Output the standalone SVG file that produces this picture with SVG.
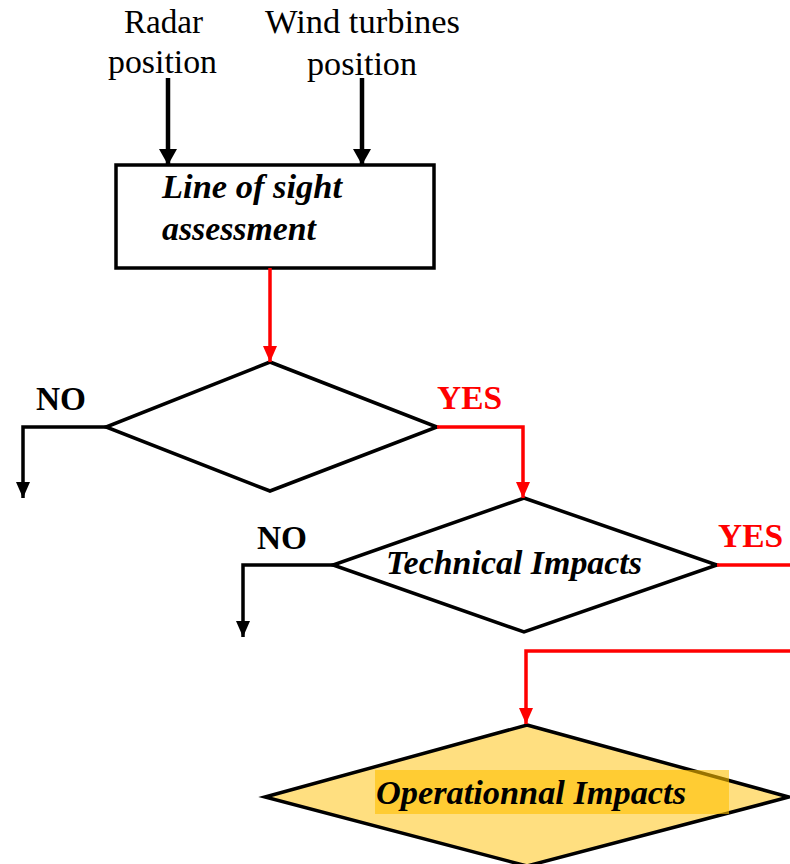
<svg xmlns="http://www.w3.org/2000/svg" width="790" height="864" viewBox="0 0 790 864">
  <defs>
    <style>
      .lbl { font-family: "Liberation Serif", "Times New Roman", serif; font-size: 33px; fill: #000; }
      .bi { font-family: "Liberation Serif", "Times New Roman", serif; font-size: 33px; font-weight: bold; font-style: italic; fill: #000; }
      .b { font-family: "Liberation Serif", "Times New Roman", serif; font-size: 33px; font-weight: bold; }
      .shape { fill: #fff; stroke: #000; stroke-width: 3.5; stroke-linejoin: miter; }
      .blk { fill: none; stroke: #000; stroke-width: 3.5; }
      .red { fill: none; stroke: #ff0000; stroke-width: 3.5; }
      .thick { fill: none; stroke: #000; stroke-width: 4.5; }
    </style>
    <marker id="ab" viewBox="0 0 16 14" refX="16" refY="7" markerWidth="16" markerHeight="14" markerUnits="userSpaceOnUse" orient="auto">
      <path d="M0,0 L16,7 L0,14 z" fill="#000"/>
    </marker>
    <marker id="abl" viewBox="0 0 16 18" refX="16" refY="9" markerWidth="16" markerHeight="18" markerUnits="userSpaceOnUse" orient="auto">
      <path d="M0,0 L16,9 L0,18 z" fill="#000"/>
    </marker>
    <marker id="ar" viewBox="0 0 16 14" refX="16" refY="7" markerWidth="16" markerHeight="14" markerUnits="userSpaceOnUse" orient="auto">
      <path d="M0,0 L16,7 L0,14 z" fill="#ff0000"/>
    </marker>
  </defs>

  <g id="input-radar">
    <text class="lbl" x="124" y="33" textLength="79" lengthAdjust="spacingAndGlyphs">Radar</text>
    <text class="lbl" x="108" y="73" textLength="109" lengthAdjust="spacingAndGlyphs">position</text>
  </g>
  <g id="input-turbines">
    <text class="lbl" x="265" y="33" textLength="195" lengthAdjust="spacingAndGlyphs">Wind turbines</text>
    <text class="lbl" x="307" y="75" textLength="110" lengthAdjust="spacingAndGlyphs">position</text>
  </g>

  <g id="los">
    <rect class="shape" x="116" y="165" width="318" height="103"/>
    <text class="bi" x="162" y="198" textLength="180" lengthAdjust="spacingAndGlyphs">Line of sight</text>
    <text class="bi" x="162" y="240" textLength="154" lengthAdjust="spacingAndGlyphs">assessment</text>
  </g>

  <g id="decision1">
    <polygon class="shape" points="270,362 437,427 270,491 106,427"/>
  </g>

  <g id="technical">
    <polygon class="shape" points="524,498 717,565 524,632 333,565"/>
    <text class="bi" x="386" y="574" textLength="256" lengthAdjust="spacingAndGlyphs">Technical Impacts</text>
  </g>

  <g id="operational">
    <polygon points="527,725 789,797 527,866 265,797" fill="#ffdf80" stroke="#000" stroke-width="3.5"/>
    <rect x="375" y="770" width="354" height="44" fill="#ffc000" fill-opacity="0.6"/>
    <text class="bi" x="376" y="804" textLength="310" lengthAdjust="spacingAndGlyphs">Operationnal Impacts</text>
  </g>

  <g id="connectors">
    <line class="thick" x1="168" y1="78" x2="168" y2="165" marker-end="url(#abl)"/>
    <line class="thick" x1="362" y1="78" x2="362" y2="165" marker-end="url(#abl)"/>
    <line class="red" x1="270" y1="268" x2="270" y2="362" marker-end="url(#ar)"/>
    <polyline class="blk" points="106,427 23,427 23,498" marker-end="url(#ab)"/>
    <polyline class="red" points="437,427 523,427 523,498" marker-end="url(#ar)"/>
    <polyline class="blk" points="333,565 243,565 243,637" marker-end="url(#ab)"/>
    <line class="red" x1="717" y1="565" x2="790" y2="565"/>
    <polyline class="red" points="790,651 526,651 526,724" marker-end="url(#ar)"/>
    <text class="b" x="36" y="410" fill="#000" textLength="50" lengthAdjust="spacingAndGlyphs">NO</text>
    <text class="b" x="437" y="409" fill="#ff0000" textLength="65" lengthAdjust="spacingAndGlyphs">YES</text>
    <text class="b" x="257" y="549" fill="#000" textLength="50" lengthAdjust="spacingAndGlyphs">NO</text>
    <text class="b" x="718" y="547" fill="#ff0000" textLength="65" lengthAdjust="spacingAndGlyphs">YES</text>
  </g>
</svg>
